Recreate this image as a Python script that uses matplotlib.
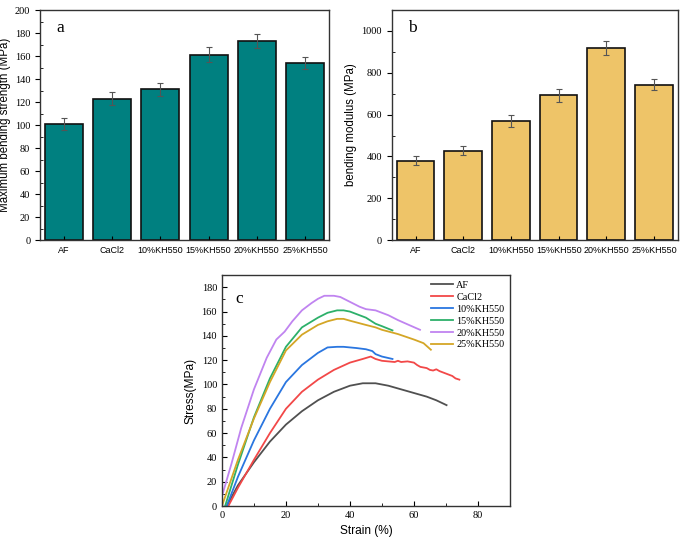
import matplotlib
matplotlib.use("Agg")
import matplotlib.pyplot as plt
from matplotlib.ticker import MultipleLocator

categories = ["AF", "CaCl2", "10%KH550", "15%KH550", "20%KH550", "25%KH550"]
strength = [101, 123, 131, 161, 173, 154]
strength_err = [5, 5.5, 6, 6.5, 6, 5.5]
modulus = [380, 427, 570, 692, 918, 744]
modulus_err = [20, 22, 28, 30, 35, 27]

curve_names = ["AF", "CaCl2", "10%KH550", "15%KH550", "20%KH550", "25%KH550"]
af_x = [1.5, 5, 10, 15, 20, 25, 30, 35, 40, 44, 48, 52, 56, 60, 64, 67, 70.2]
af_y = [0, 17, 36, 53, 67, 78, 87, 94, 99, 101, 101, 99, 96, 93, 90, 87, 83]
ca_x = [2, 5, 10, 15, 20, 25, 30, 35, 40, 44, 46.5, 48, 50, 52, 54, 55, 56, 58, 60, 61, 62, 64, 65, 66, 67, 68, 70, 72, 73, 74.2]
ca_y = [0, 15, 38, 60, 80, 94, 104, 112, 118, 121, 123, 121, 119.5, 119, 118.5, 119.5, 118.5, 119, 118, 116, 114.5, 113.5, 112, 111.5, 112.5, 111, 109, 107, 105, 104]
b10_x = [1.5, 5, 10, 15, 20, 25, 30, 33, 36, 38, 42, 45, 47, 48, 50, 53.3]
b10_y = [0, 24, 54, 80, 102, 116, 126, 130.5, 131, 131, 130, 129, 127.5, 125, 123, 121]
b15_x = [1, 5, 10, 15, 20, 25, 30, 33, 36, 38, 40, 45, 48, 50, 53.3]
b15_y = [0, 34, 73, 105, 131, 147, 155, 159, 161, 161, 160, 155, 150, 148, 144.5]
b20_x = [0, 3, 6, 10, 14, 17, 19.6, 22, 25, 28, 30, 32, 35, 37, 40, 43, 45, 48, 52, 55, 58, 61.9]
b20_y = [8, 35, 64, 96, 122, 137, 143.5, 152, 161, 167, 170.5, 173, 173, 172, 168, 164, 162, 161, 157, 153, 149.5, 145]
b25_x = [0, 5, 10, 15, 20, 25, 30, 33, 36, 38, 40, 45, 48, 50, 55, 60, 63, 65.3]
b25_y = [0, 38, 72, 102, 128, 141, 149, 152, 154, 154, 152.5, 149, 147, 145, 141.5, 137, 134, 128.6]

curve_colors = ["#505050", "#F24848", "#2A76E0", "#2DB06A", "#C084F0", "#D4A626"]

plt.rcParams["font.family"] = ["Liberation Sans", "DejaVu Sans"]
serif = ["Liberation Serif", "DejaVu Serif"]

fig = plt.figure(figsize=(6.85, 5.42), dpi=100)

def style_bar_axes(ax):
    ax.tick_params(axis="y", which="major", direction="out", length=3.5, width=0.8, right=False)
    ax.tick_params(axis="y", which="minor", direction="in", length=2, width=0.6, right=False)
    ax.tick_params(axis="x", direction="in", length=3, width=0.8, top=False, pad=4)
    for lab in ax.get_yticklabels():
        lab.set_fontfamily(serif)
        lab.set_fontsize(7.5)
    for lab in ax.get_xticklabels():
        lab.set_fontsize(6.5)
    for s in ax.spines.values():
        s.set_linewidth(1.0)
        s.set_color("#333333")

x = list(range(len(categories)))

# panel a
ax1 = fig.add_axes([0.0584, 0.557, 0.422, 0.4244])
ax1.bar(x, strength, width=0.79, color="#008080", edgecolor="#111111", linewidth=1.2)
ax1.errorbar(x, strength, yerr=strength_err, fmt="none", ecolor="#555555", elinewidth=0.8, capsize=2.5, capthick=0.8)
ax1.set_xlim(-0.5, 5.5)
ax1.set_ylim(0, 200)
ax1.set_xticks(x)
ax1.set_xticklabels(categories)
ax1.yaxis.set_major_locator(MultipleLocator(20))
ax1.yaxis.set_minor_locator(MultipleLocator(10))
ax1.set_ylabel("Maximum bending strength (MPa)", fontsize=8.3, labelpad=3)
ax1.text(0.055, 0.955, "a", transform=ax1.transAxes, fontsize=12.5, family=serif, va="top")
style_bar_axes(ax1)

# panel b
ax2 = fig.add_axes([0.572, 0.557, 0.4175, 0.4244])
ax2.bar(x, modulus, width=0.79, color="#EEC468", edgecolor="#111111", linewidth=1.2)
ax2.errorbar(x, modulus, yerr=modulus_err, fmt="none", ecolor="#555555", elinewidth=0.8, capsize=2.5, capthick=0.8)
ax2.set_xlim(-0.5, 5.5)
ax2.set_ylim(0, 1100)
ax2.set_xticks(x)
ax2.set_xticklabels(categories)
ax2.yaxis.set_major_locator(MultipleLocator(200))
ax2.yaxis.set_minor_locator(MultipleLocator(100))
ax2.set_ylabel("bending modulus (MPa)", fontsize=8.3, labelpad=3)
ax2.text(0.055, 0.955, "b", transform=ax2.transAxes, fontsize=12.5, family=serif, va="top")
style_bar_axes(ax2)

# panel c
ax3 = fig.add_axes([0.324, 0.0664, 0.4204, 0.426])
xs = [af_x, ca_x, b10_x, b15_x, b20_x, b25_x]
ys = [af_y, ca_y, b10_y, b15_y, b20_y, b25_y]
for xx, yy, c, n in zip(xs, ys, curve_colors, curve_names):
    ax3.plot(xx, yy, color=c, lw=1.3, label=n)
ax3.set_xlim(0, 90)
ax3.set_ylim(0, 190)
ax3.xaxis.set_major_locator(MultipleLocator(20))
ax3.xaxis.set_minor_locator(MultipleLocator(10))
ax3.yaxis.set_major_locator(MultipleLocator(20))
ax3.yaxis.set_minor_locator(MultipleLocator(10))
ax3.tick_params(which="both", direction="in", top=False, right=False)
ax3.tick_params(which="major", length=3.5, width=0.8)
ax3.tick_params(which="minor", length=2, width=0.6)
for lab in ax3.get_xticklabels() + ax3.get_yticklabels():
    lab.set_fontfamily(serif)
    lab.set_fontsize(7.5)
for s in ax3.spines.values():
    s.set_linewidth(1.0)
    s.set_color("#333333")
ax3.set_xlabel("Strain (%)", fontsize=8.6, labelpad=4)
ax3.set_ylabel("Stress(MPa)", fontsize=8.6, labelpad=4)
ax3.text(0.045, 0.93, "c", transform=ax3.transAxes, fontsize=12.5, family=serif, va="top")
ax3.legend(loc="upper right", frameon=False, prop={"family": serif, "size": 7.3},
           handlelength=2.2, handletextpad=0.3, labelspacing=0.28, borderaxespad=0.15,
           bbox_to_anchor=(1.0, 1.0))

fig.savefig("out.png", dpi=100)
